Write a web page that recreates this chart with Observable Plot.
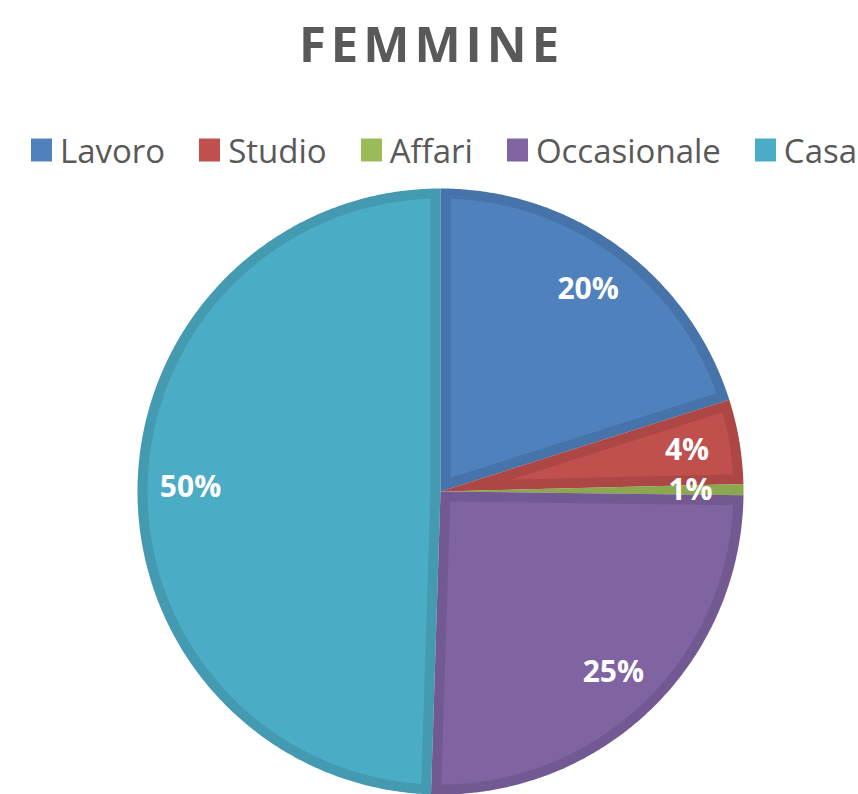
<!DOCTYPE html>
<html><head><meta charset="utf-8">
<script src="https://cdn.jsdelivr.net/npm/d3@7"></script>
<script src="https://cdn.jsdelivr.net/npm/@observablehq/plot@0.6"></script>
<style>
body{margin:0;background:#fff;}
#wrap{position:relative;width:858px;height:794px;overflow:hidden;background:#fff;}
#chart{position:absolute;left:0;top:0;}
#legend{position:absolute;left:15px;width:858px;top:150px;transform:translateY(-50%);}
#legend > div{justify-content:center !important;flex-wrap:nowrap !important;font-family:'Open Sans',sans-serif !important;font-size:33px !important;color:#595959 !important;margin:0 !important;}
#legend span{margin-right:34px !important;white-space:nowrap;}
#legend span:last-of-type{margin-right:0 !important;}
#legend svg{margin-right:8px !important;}
</style></head><body>
<div id="wrap"><div id="chart"></div><div id="legend"></div></div>
<script>
const title = "FEMMINE";
const categories = ["Lavoro", "Studio", "Affari", "Occasionale", "Casa"];
const values = [20.1, 4.5, 0.6, 25.3, 49.5];
const labels = ["20%", "4%", "1%", "25%", "50%"];
const colors = ["#4F81BD", "#C0504D", "#9BBB59", "#8064A2", "#4BACC6"];

const R = 303, D = 10, LR = 250;
const arcs = d3.pie().sort(null).value(d => d)(values);

function wedge(key, a0, a1, r, apex) {
  const pts = [{key, x: apex[0], y: apex[1]}];
  const n = Math.max(2, Math.ceil((a1 - a0) / (Math.PI / 360)));
  for (let i = 0; i <= n; i++) {
    const a = a0 + (a1 - a0) * i / n;
    pts.push({key, x: r * Math.sin(a), y: r * Math.cos(a)});
  }
  return pts;
}
const outer = [], inner = [], labelData = [];
arcs.forEach((a, i) => {
  const key = categories[i];
  outer.push(...wedge(key, a.startAngle, a.endAngle, R, [0, 0]));
  const half = (a.endAngle - a.startAngle) / 2;
  const mid = a.startAngle + half;
  const delta = Math.asin(D / (R - D));
  if (half > delta * 1.2) {
    const s = half < Math.PI / 2 ? D / Math.sin(half) : D;
    inner.push(...wedge(key, a.startAngle + delta, a.endAngle - delta, R - D, [s * Math.sin(mid), s * Math.cos(mid)]));
  }
  labelData.push({text: labels[i], x: LR * Math.sin(mid), y: LR * Math.cos(mid)});
});

const plot = Plot.plot({
  width: 858, height: 794, margin: 0,
  x: {domain: [-440, 418], axis: null},
  y: {domain: [-303, 491], axis: null},
  color: {domain: categories, range: colors},
  marks: [
    Plot.line(outer, {x: "x", y: "y", z: "key", fill: "key", stroke: null, curve: "linear-closed"}),
    Plot.line(outer, {x: "x", y: "y", z: "key", fill: "black", fillOpacity: 0.1, stroke: null, curve: "linear-closed"}),
    Plot.line(inner, {x: "x", y: "y", z: "key", fill: "key", stroke: null, curve: "linear-closed"}),
    Plot.text(labelData, {x: "x", y: "y", text: "text", fill: "white", fontSize: 30, fontWeight: "bold", fontFamily: "Open Sans"}),
    Plot.text([title], {frameAnchor: "top", dy: 46, dx: 2, lineAnchor: "middle", fill: "#595959", fontSize: 49, fontWeight: "bold", fontFamily: "Open Sans"})
  ]
});
d3.select(plot).selectAll("text").filter(function() { return this.textContent === title; }).attr("letter-spacing", 5);
document.getElementById("chart").appendChild(plot);

const legend = Plot.legend({
  color: {domain: categories, range: colors, legend: "swatches"},
  swatchWidth: 21, swatchHeight: 23
});
document.getElementById("legend").appendChild(legend);
</script>
</body></html>
